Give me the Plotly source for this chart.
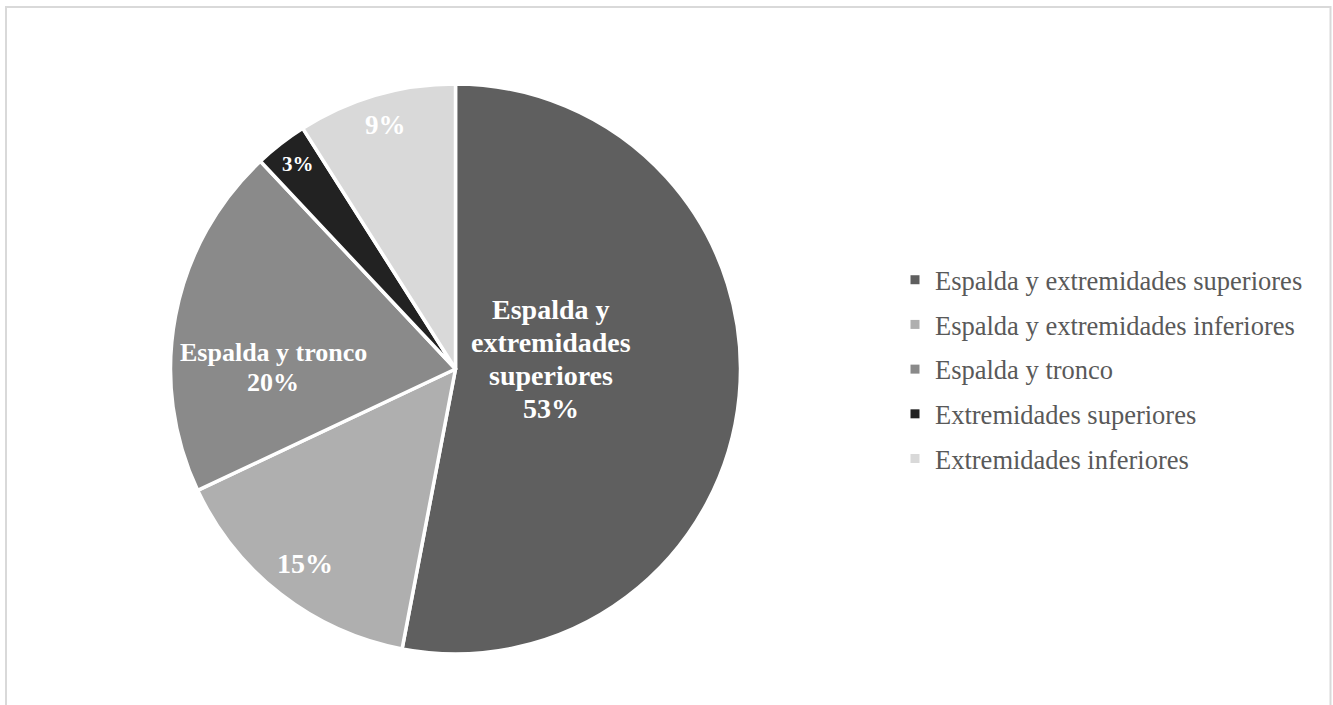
import plotly.graph_objects as go

# Body regions and their share of cases (%)
categories = [
    "Espalda y extremidades superiores",
    "Espalda y extremidades inferiores",
    "Espalda y tronco",
    "Extremidades superiores",
    "Extremidades inferiores",
]
shares = [53, 15, 20, 3, 9]
colors = ["#5f5f5f", "#afafaf", "#8a8a8a", "#222222", "#d9d9d9"]

W, H = 1333, 705
FONT = "Liberation Serif, Times New Roman, serif"


def fx(x):
    return x / W


def fy(y):
    return 1 - y / H


fig = go.Figure()

fig.add_trace(go.Pie(
    labels=categories,
    values=shares,
    sort=False,
    direction="clockwise",
    rotation=0,
    marker=dict(colors=colors, line=dict(color="white", width=3.5)),
    textinfo="none",
    hoverinfo="label+percent",
    showlegend=False,
    domain=dict(x=[fx(170), fx(741)], y=[fy(654), fy(84)]),
))

# Legend entries (square swatches), one group each for even row spacing
for name, col in zip(categories, colors):
    fig.add_trace(go.Scatter(
        x=[None], y=[None], mode="markers", name=name, legendgroup=name,
        marker=dict(symbol="square", size=9, color=col),
        hoverinfo="skip",
    ))

# Data labels inside the slices (one annotation per text line)
label_specs = [
    # (lines, centre x, first-line centre y, font size, line step)
    (["Espalda y", "extremidades", "superiores", f"{shares[0]}%"], 551, 309.5, 28, 33),
    ([f"{shares[1]}%"], 304.5, 563.5, 28, 0),
    (["Espalda y tronco", f"{shares[2]}%"], 273, 353, 26, 29),
    ([f"{shares[3]}%"], 297.5, 164, 21, 0),
    ([f"{shares[4]}%"], 385.5, 125, 27, 0),
]
annotations = []
for lines, cx, cy, size, step in label_specs:
    for i, line in enumerate(lines):
        annotations.append(dict(
            text=f"<b>{line}</b>", x=fx(cx), y=fy(cy + i * step),
            xref="paper", yref="paper", xanchor="center", yanchor="middle",
            showarrow=False, font=dict(family=FONT, size=size, color="white"),
        ))

fig.update_layout(
    width=W, height=H,
    margin=dict(l=0, r=0, t=0, b=0),
    paper_bgcolor="white", plot_bgcolor="white",
    xaxis=dict(visible=False), yaxis=dict(visible=False),
    font=dict(family=FONT),
    showlegend=True,
    legend=dict(
        x=fx(895), y=fy(256), xanchor="left", yanchor="top",
        font=dict(family=FONT, size=26.5, color="#595959"),
        tracegroupgap=7.25, itemclick=False, itemdoubleclick=False,
        bgcolor="rgba(0,0,0,0)",
    ),
    annotations=annotations,
    shapes=[dict(
        type="rect", xref="paper", yref="paper",
        x0=fx(6), x1=fx(1330.5), y0=fy(720), y1=fy(7),
        line=dict(color="#d9d9d9", width=2), fillcolor="rgba(0,0,0,0)",
    )],
)

fig.write_html("out.html")
